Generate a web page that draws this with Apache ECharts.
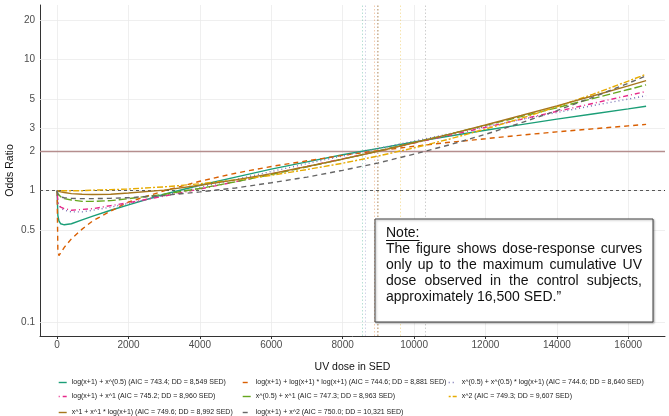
<!DOCTYPE html>
<html>
<head>
<meta charset="utf-8">
<script src="https://cdn.jsdelivr.net/npm/echarts@6/dist/echarts.min.js"></script>
<style>
  html, body { margin: 0; padding: 0; background: #fff; }
  #chart { width: 669px; height: 416px; }
</style>
</head>
<body>
<div id="chart"></div>
<script>
const doses = [0, 20, 50, 100, 200, 400, 700, 1000, 1500, 2000, 3000, 4000, 5000, 6000, 7000, 8000, 9000, 10000, 11000, 12000, 13000, 14000, 15000, 16000, 16500];

// odds ratio per model, same order as doses
const orLogSqrt = [1, 0.65, 0.59, 0.56, 0.55, 0.56, 0.6, 0.64, 0.71, 0.78, 0.94, 1.1, 1.27, 1.46, 1.66, 1.88, 2.1, 2.35, 2.61, 2.89, 3.19, 3.51, 3.84, 4.2, 4.4];
const orLogLog = [1, 0.35, 0.32, 0.33, 0.37, 0.43, 0.51, 0.59, 0.7, 0.82, 1.0, 1.18, 1.36, 1.53, 1.69, 1.86, 2.02, 2.18, 2.34, 2.49, 2.65, 2.81, 2.96, 3.12, 3.2];
const orSqrtSqrtLog = [1, 0.82, 0.77, 0.74, 0.71, 0.69, 0.69, 0.71, 0.75, 0.8, 0.92, 1.06, 1.22, 1.4, 1.61, 1.84, 2.1, 2.39, 2.72, 3.08, 3.49, 3.94, 4.45, 4.99, 5.3];
const orLogX = [1, 0.82, 0.78, 0.75, 0.73, 0.71, 0.72, 0.73, 0.77, 0.81, 0.91, 1.03, 1.17, 1.34, 1.53, 1.75, 2.01, 2.31, 2.65, 3.04, 3.5, 4.02, 4.62, 5.32, 5.7];
const orSqrtX = [1, 0.95, 0.92, 0.9, 0.87, 0.85, 0.83, 0.83, 0.84, 0.87, 0.94, 1.04, 1.17, 1.33, 1.52, 1.74, 2.01, 2.33, 2.7, 3.15, 3.67, 4.29, 5.03, 5.9, 6.4];
const orX2 = [1, 1, 1, 1, 1, 1, 1, 1.01, 1.02, 1.03, 1.07, 1.13, 1.21, 1.31, 1.45, 1.62, 1.84, 2.12, 2.48, 2.95, 3.56, 4.36, 5.42, 6.84, 7.72];
const orXXLog = [1, 0.99, 0.99, 0.98, 0.97, 0.95, 0.94, 0.935, 0.94, 0.96, 1.01, 1.1, 1.21, 1.35, 1.53, 1.74, 2.0, 2.32, 2.7, 3.17, 3.74, 4.43, 5.27, 6.3, 6.9];
const orLogX2 = [1, 0.93, 0.91, 0.895, 0.885, 0.875, 0.87, 0.87, 0.875, 0.885, 0.92, 0.98, 1.05, 1.15, 1.27, 1.43, 1.63, 1.9, 2.24, 2.69, 3.29, 4.08, 5.14, 6.59, 7.5];

const seriesNames = [
  'log(x+1) + x^(0.5) (AIC = 743.4; DD = 8,549 SED)',
  'log(x+1) + log(x+1) * log(x+1) (AIC = 744.6; DD = 8,881 SED)',
  'x^(0.5) + x^(0.5) * log(x+1) (AIC = 744.6; DD = 8,640 SED)',
  'log(x+1) + x^1 (AIC = 745.2; DD = 8,960 SED)',
  'x^(0.5) + x^1 (AIC = 747.3; DD = 8,963 SED)',
  'x^2 (AIC = 749.3; DD = 9,607 SED)',
  'x^1 + x^1 * log(x+1) (AIC = 749.6; DD = 8,992 SED)',
  'log(x+1) + x^2 (AIC = 750.0; DD = 10,321 SED)'
];
const seriesValues = [orLogSqrt, orLogLog, orSqrtSqrtLog, orLogX, orSqrtX, orX2, orXXLog, orLogX2];
// doubling dose of each model
const ddValues = [8549, 8881, 8640, 8960, 8963, 9607, 8992, 10321];

const xTicks = [0, 2000, 4000, 6000, 8000, 10000, 12000, 14000, 16000];
const yTicks = [0.1, 0.5, 1, 2, 3, 5, 10, 20];

// styles (Dark2 palette + ggplot linetypes)
const COLORS = ['#1B9E77', '#D95F02', '#7570B3', '#E7298A', '#66A61E', '#E6AB02', '#A6761D', '#666666'];
const DASHES = ['solid', [5, 4], [1, 3], [1, 3, 5, 3], [8, 3], [2, 2, 6, 2], 'solid', [5, 4]];
const LEGEND_POS = [[58, 379], [242, 379], [448, 379], [58, 393], [242, 393], [448, 393], [58, 409], [242, 409]];
const FONT = '"Liberation Sans", Arial, sans-serif';

const chart = echarts.init(document.getElementById('chart'));

const curveSeries = seriesNames.map((name, i) => ({
  name,
  type: 'line',
  data: doses.map((d, k) => [d, seriesValues[i][k]]),
  symbol: 'none',
  z: 3,
  lineStyle: { color: COLORS[i], width: 1.4, type: DASHES[i] },
  itemStyle: { color: COLORS[i] },
  markLine: {
    silent: true,
    symbol: 'none',
    z: 1,
    label: { show: false },
    lineStyle: { color: COLORS[i], width: 0.8, type: [1.5, 2], opacity: 0.4 },
    data: [{ xAxis: ddValues[i] }]
  }
}));

// horizontal grid + y tick labels on the log axis
const gridSeries = {
  name: 'ygrid',
  type: 'line',
  data: [],
  silent: true,
  markLine: {
    silent: true,
    symbol: 'none',
    z: 1,
    lineStyle: { color: '#ebebeb', width: 0.8, type: 'solid' },
    label: {
      show: true,
      position: 'start',
      distance: 5,
      color: '#4d4d4d',
      fontSize: 10,
      fontFamily: FONT,
      formatter: (p) => String(p.value)
    },
    data: yTicks.map((v) => ({ yAxis: v }))
  }
};

// reference lines: OR = 1 (dashed) and OR = 2 (red)
const refSeries = {
  name: 'ref',
  type: 'line',
  data: [],
  silent: true,
  markLine: {
    silent: true,
    symbol: 'none',
    z: 2,
    label: { show: false },
    data: [
      { yAxis: 1, lineStyle: { color: '#333', width: 0.8, type: [3, 3] } },
      { yAxis: 2, lineStyle: { color: '#b58e8e', width: 1.3, type: 'solid' } }
    ]
  }
};

// note box, justified like the original
const noteLines = [
  'The figure shows dose-response curves',
  'only up to the maximum cumulative UV',
  'dose observed in the control subjects,',
  'approximately 16,500 SED.\u201d'
];
const NOTE_X = 386;
const NOTE_W = 256;
const NOTE_FONT = '14px "Liberation Sans"';
const ctx = document.createElement('canvas').getContext('2d');
ctx.font = NOTE_FONT;

const noteGraphics = [
  {
    type: 'rect',
    z: 100,
    shape: { x: 375, y: 219, width: 278, height: 103 },
    style: { fill: '#fff', stroke: '#444', lineWidth: 1, shadowBlur: 2, shadowOffsetX: 1, shadowOffsetY: 1, shadowColor: 'rgba(0,0,0,0.3)' }
  },
  {
    type: 'text',
    z: 101,
    x: NOTE_X,
    y: 233,
    style: { text: 'Note:', font: NOTE_FONT, fill: '#111', textVerticalAlign: 'middle' }
  },
  {
    type: 'line',
    z: 101,
    shape: { x1: NOTE_X, y1: 240.5, x2: NOTE_X + ctx.measureText('Note:').width, y2: 240.5 },
    style: { stroke: '#111', lineWidth: 1 }
  }
];

noteLines.forEach((line, li) => {
  const y = 249 + li * 16;
  const words = line.split(' ');
  const last = li === noteLines.length - 1;
  const widths = words.map((w) => ctx.measureText(w).width);
  const total = widths.reduce((a, b) => a + b, 0);
  const gap = last ? ctx.measureText(' ').width : (NOTE_W - total) / (words.length - 1);
  let x = NOTE_X;
  words.forEach((w, wi) => {
    noteGraphics.push({
      type: 'text',
      z: 101,
      x,
      y,
      style: { text: w, font: NOTE_FONT, fill: '#111', textVerticalAlign: 'middle' }
    });
    x += widths[wi] + gap;
  });
});

chart.setOption({
  animation: false,
  textStyle: { fontFamily: FONT },
  grid: { left: 40, right: 4, top: 5, bottom: 80, containLabel: false, outerBoundsMode: 'none' },
  legend: seriesNames.map((name, i) => ({
    data: [name],
    left: LEGEND_POS[i][0],
    top: LEGEND_POS[i][1],
    padding: 0,
    itemWidth: 8,
    itemHeight: 7,
    selectedMode: false,
    itemStyle: { opacity: 0 },
    lineStyle: { width: 1.4 },
    textStyle: { fontSize: 7, color: '#222', fontFamily: FONT }
  })),
  xAxis: {
    type: 'value',
    min: -480,
    max: 17030,
    name: 'UV dose in SED',
    nameLocation: 'middle',
    nameGap: 26,
    nameTextStyle: { fontSize: 10.5, color: '#111', fontFamily: FONT },
    axisLine: { show: true, onZero: false, lineStyle: { color: '#333', width: 1 } },
    axisTick: { show: true, length: 3, customValues: xTicks, lineStyle: { color: '#333' } },
    axisLabel: { customValues: xTicks, fontSize: 10, color: '#4d4d4d', margin: 4, formatter: (v) => String(v) },
    splitLine: { show: true, lineStyle: { color: '#ebebeb', width: 0.8 } }
  },
  yAxis: {
    type: 'log',
    min: 0.0782,
    max: 26,
    name: 'Odds Ratio',
    nameLocation: 'middle',
    nameGap: 24,
    nameTextStyle: { fontSize: 10.5, color: '#111', fontFamily: FONT },
    axisLine: { show: true, onZero: false, lineStyle: { color: '#333', width: 1 } },
    axisTick: { show: false },
    axisLabel: { show: false },
    splitLine: { show: false }
  },
  series: [gridSeries, refSeries, ...curveSeries],
  graphic: noteGraphics
});
</script>
</body>
</html>
